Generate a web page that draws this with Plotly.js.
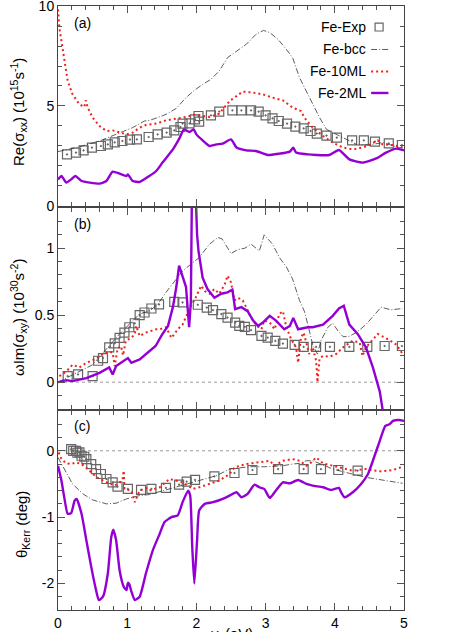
<!DOCTYPE html>
<html><head><meta charset="utf-8">
<script src="https://cdn.plot.ly/plotly-3.0.1.min.js"></script>
<style>body{margin:0;background:#fff}#plot{width:463px;height:632px}</style>
</head><body><div id="plot"></div>
<script>
// ---------- panel (a): Re(sigma_xx) ----------
const expA_x = [0.13,0.26,0.37,0.49,0.62,0.72,0.82,0.93,1.04,1.14,1.31,1.44,1.57,1.68,1.77,1.80,1.90,1.98,2.03,2.04,2.21,2.33,2.52,2.65,2.79,2.90,3.00,3.10,3.19,3.31,3.43,3.55,3.65,3.74,3.88,4.03,4.25,4.42,4.58,4.78,4.97];
const expA_y = [2.58,2.67,2.78,2.92,3.00,3.08,3.18,3.25,3.32,3.33,3.45,3.58,3.67,3.78,3.95,4.12,4.13,4.33,4.50,4.22,4.53,4.72,4.78,4.78,4.78,4.72,4.53,4.38,4.25,4.12,3.97,3.88,3.75,3.62,3.52,3.42,3.28,3.28,3.22,3.13,3.05];
const bccA_x = [0,0.3,0.6,0.84,1.08,1.25,1.32,1.44,1.56,1.71,1.85,1.97,2.09,2.21,2.33,2.45,2.58,2.72,2.86,2.97,3.06,3.18,3.30,3.39,3.49,3.59,3.63,3.78,3.88,4.02,4.21,4.33,4.50,4.69,4.93,5.0];
const bccA_y = [2.72,2.95,3.25,3.58,3.92,4.25,4.28,4.42,4.58,4.88,5.42,5.78,6.08,6.33,6.75,7.42,7.75,8.08,8.58,8.78,8.67,8.33,7.83,7.42,6.42,5.75,5.42,4.42,3.83,3.58,3.25,3.05,3.05,3.17,2.92,2.9];
const ml10A_x = [0,0.02,0.05,0.09,0.14,0.21,0.31,0.38,0.40,0.43,0.50,0.60,0.70,0.79,0.89,0.99,1.08,1.18,1.27,1.42,1.56,1.80,2.00,2.09,2.19,2.33,2.48,2.58,2.67,2.82,2.96,3.10,3.25,3.39,3.51,3.56,3.68,3.83,3.97,4.12,4.26,4.40,4.50,4.62,4.69,4.84,4.98];
const ml10A_y = [9.83,8.9,8.25,7.25,6.25,5.58,5.08,4.95,5.28,4.92,4.42,4.0,3.75,3.78,3.67,3.58,3.67,3.92,4.05,4.12,4.28,4.42,4.58,4.5,4.45,4.62,5.25,5.5,5.72,5.67,5.58,5.42,5.28,4.92,4.75,4.42,3.92,3.5,3.17,2.92,2.83,2.92,3.05,3.28,3.08,3.05,2.92];
const ml2A_x = [0,0.05,0.12,0.19,0.25,0.34,0.46,0.60,0.70,0.79,0.89,0.99,1.01,1.08,1.18,1.32,1.42,1.51,1.66,1.76,1.82,1.90,1.96,2.00,2.09,2.19,2.29,2.38,2.50,2.58,2.72,2.86,3.03,3.20,3.35,3.40,3.44,3.61,3.73,3.92,4.06,4.21,4.40,4.60,4.74,4.89,5.0];
const ml2A_y = [1.33,1.5,1.17,1.33,1.5,1.25,1.17,1.12,1.25,1.72,1.62,1.5,1.58,1.25,1.2,1.5,1.75,2.17,2.83,3.42,3.83,3.7,3.83,3.58,3.28,3.0,3.08,3.12,3.33,2.92,2.78,2.75,2.55,2.62,2.72,2.92,2.67,2.58,2.55,2.55,2.8,2.33,2.17,2.38,2.67,2.87,2.78];

// ---------- panel (b): omega Im(sigma_xy) ----------
const expB_x = [0.14,0.29,0.50,0.58,0.65,0.74,0.82,0.89,0.96,1.03,1.11,1.18,1.25,1.35,1.46,1.68,1.80,2.02,2.15,2.24,2.36,2.45,2.56,2.62,2.70,2.79,2.94,3.03,3.14,3.25,3.42,3.55,3.73,3.93,4.21,4.47,4.72,4.97];
const expB_y = [0.045,0.058,0.045,0.16,0.18,0.26,0.29,0.33,0.37,0.41,0.44,0.50,0.52,0.55,0.58,0.60,0.595,0.578,0.557,0.538,0.508,0.482,0.445,0.42,0.413,0.388,0.345,0.332,0.308,0.288,0.278,0.263,0.263,0.263,0.263,0.263,0.27,0.27];
const bccB_x = [0,0.2,0.5,0.89,1.18,1.32,1.44,1.56,1.80,2.04,2.19,2.31,2.37,2.50,2.60,2.70,2.79,2.91,2.98,3.10,3.20,3.30,3.39,3.49,3.56,3.62,3.68,3.75,3.80,3.90,3.97,4.05,4.12,4.20,4.31,4.45,4.67,4.81,4.98];
const bccB_y = [0.0,0.05,0.13,0.36,0.51,0.53,0.58,0.67,0.83,0.93,1.03,1.08,1.07,0.96,0.99,1.0,1.03,0.98,1.10,1.03,0.93,0.86,0.77,0.61,0.53,0.41,0.28,0.21,0.31,0.41,0.44,0.38,0.34,0.34,0.37,0.43,0.56,0.54,0.55];
const ml10B_x = [0.02,0.12,0.21,0.31,0.41,0.53,0.65,0.74,0.79,0.82,0.86,0.91,0.94,0.98,1.06,1.11,1.13,1.18,1.27,1.42,1.47,1.56,1.64,1.73,1.80,1.86,1.92,1.97,2.02,2.07,2.12,2.19,2.26,2.33,2.41,2.45,2.50,2.55,2.60,2.67,2.72,2.79,2.86,2.94,2.98,3.06,3.13,3.20,3.25,3.30,3.37,3.44,3.47,3.51,3.55,3.59,3.63,3.68,3.73,3.75,3.78,3.83,3.92,4.02,4.12,4.26,4.36,4.40,4.45,4.62,4.77,4.89,4.98];
const ml10B_y = [0.045,0.08,0.13,0.11,0.145,0.17,0.21,0.23,0.22,0.12,0.25,0.27,0.2,0.31,0.33,0.36,0.42,0.345,0.37,0.395,0.395,0.41,0.33,0.395,0.43,0.5,0.57,0.61,0.67,0.72,0.68,0.66,0.695,0.66,0.73,0.795,0.745,0.61,0.63,0.61,0.56,0.48,0.43,0.395,0.46,0.445,0.395,0.51,0.53,0.41,0.32,0.26,0.145,0.33,0.37,0.28,0.21,0.26,0.16,0.0,0.18,0.195,0.19,0.21,0.26,0.31,0.295,0.195,0.26,0.36,0.32,0.28,0.21];
const ml2B_x = [0,0.12,0.21,0.41,0.60,0.74,0.79,0.84,1.01,1.06,1.18,1.32,1.41,1.51,1.59,1.66,1.71,1.75,1.80,1.85,1.895,1.92,1.935,1.99,2.01,2.03,2.09,2.16,2.26,2.36,2.45,2.52,2.56,2.65,2.74,2.82,2.89,2.96,3.06,3.15,3.27,3.35,3.40,3.47,3.61,3.68,3.83,3.97,4.06,4.13,4.21,4.33,4.45,4.55,4.65,4.72];
const ml2B_y = [0,0.015,0.008,0.03,0.07,0.11,0.058,0.12,0.18,0.145,0.17,0.23,0.27,0.36,0.42,0.56,0.71,0.87,0.795,0.71,0.41,0.6,1.4,1.4,1.1,0.98,0.78,0.695,0.63,0.66,0.67,0.69,0.545,0.56,0.53,0.46,0.42,0.445,0.495,0.46,0.395,0.42,0.48,0.395,0.41,0.41,0.43,0.495,0.55,0.57,0.43,0.36,0.26,0.11,-0.07,-0.3];

// ---------- panel (c): theta_Kerr ----------
const expC_x = [0.19,0.22,0.26,0.28,0.31,0.34,0.38,0.41,0.48,0.55,0.62,0.70,0.79,0.86,1.01,1.20,1.35,1.56,1.75,1.86,1.98,2.26,2.55,2.81,3.18,3.55,3.80,4.05,4.33];
const expC_y = [0.025,0.0,0.0,-0.03,-0.025,-0.075,-0.09,-0.125,-0.2,-0.275,-0.35,-0.425,-0.475,-0.54,-0.575,-0.59,-0.575,-0.56,-0.51,-0.465,-0.44,-0.385,-0.335,-0.29,-0.275,-0.275,-0.275,-0.29,-0.30];
const bccC_x = [0,0.05,0.12,0.21,0.36,0.50,0.70,0.84,0.99,1.18,1.32,1.56,1.80,2.04,2.29,2.48,2.77,3.01,3.25,3.39,3.49,3.59,3.68,3.80,3.97,4.21,4.45,4.74,4.98];
const bccC_y = [-0.1,-0.2,-0.325,-0.5,-0.65,-0.74,-0.8,-0.79,-0.725,-0.675,-0.66,-0.59,-0.51,-0.45,-0.375,-0.275,-0.24,-0.24,-0.225,-0.2,-0.19,-0.15,-0.15,-0.2,-0.275,-0.34,-0.4,-0.45,-0.49];
const ml10C_x = [0.01,0.05,0.12,0.19,0.26,0.34,0.43,0.53,0.60,0.70,0.82,0.93,0.95,0.96,1.06,1.11,1.18,1.27,1.32,1.47,1.61,1.80,1.95,2.04,2.19,2.33,2.48,2.55,2.72,2.91,3.06,3.13,3.25,3.39,3.49,3.59,3.66,3.73,3.78,3.83,3.97,4.12,4.26,4.45,4.65,4.84,4.98];
const ml10C_y = [-0.025,-0.125,-0.19,-0.2,-0.175,-0.2,-0.275,-0.375,-0.425,-0.475,-0.525,-0.45,-0.3,-0.575,-0.6,-0.775,-0.6,-0.56,-0.6,-0.55,-0.425,-0.475,-0.575,-0.55,-0.5,-0.45,-0.35,-0.25,-0.2,-0.175,-0.15,-0.225,-0.15,-0.125,-0.15,-0.225,-0.175,-0.1,-0.15,-0.19,-0.225,-0.26,-0.3,-0.275,-0.31,-0.29,-0.24];
const ml2C_x = [0,0.05,0.09,0.14,0.19,0.24,0.27,0.34,0.41,0.48,0.55,0.59,0.65,0.72,0.77,0.80,0.84,0.89,0.95,0.99,1.01,1.03,1.06,1.11,1.18,1.27,1.37,1.47,1.54,1.64,1.73,1.80,1.88,1.91,1.94,1.97,2.01,2.04,2.12,2.24,2.38,2.48,2.58,2.65,2.74,2.84,2.91,2.98,3.06,3.13,3.25,3.35,3.47,3.59,3.68,3.83,3.95,4.06,4.09,4.14,4.26,4.38,4.48,4.55,4.65,4.73,4.79,4.84,4.93,5.0];
const ml2C_y = [-0.225,-0.45,-0.7,-0.95,-0.94,-0.75,-0.725,-0.95,-1.35,-1.75,-2.1,-2.25,-2.2,-1.85,-1.3,-1.19,-1.35,-1.8,-2.05,-2.1,-1.99,-2.01,-2.12,-2.25,-2.2,-1.85,-1.5,-1.25,-1.075,-1.0,-0.975,-0.775,-0.6,-0.675,-1.45,-2.0,-1.35,-0.9,-0.8,-0.775,-0.725,-0.675,-0.625,-0.7,-0.65,-0.51,-0.55,-0.575,-0.71,-0.625,-0.475,-0.49,-0.44,-0.5,-0.525,-0.55,-0.59,-0.56,-0.625,-0.7,-0.625,-0.5,-0.35,-0.15,0.15,0.375,0.4,0.45,0.465,0.45];

// ---------- labels ----------
const seriesNames = ["Fe-Exp","Fe-bcc","Fe-10ML","Fe-2ML"];
const panelLabels = ["(a)","(b)","(c)"];
const xTicks = [0,1,2,3,4,5];
const yTicksA = [0,5,10];
const yTicksB = [0,0.5,1];
const yTicksC = [-2,-1,0];
const yTickTextC = ["-2","-1","0"];

const expStyle = {mode:'markers', marker:{symbol:'square-open-dot', size:9, color:'#666', line:{width:1.2, color:'#666'}}, showlegend:false};
const bccStyle = {mode:'lines', line:{color:'#333', width:0.8, dash:'6px,2px,1px,2px'}, showlegend:false};
const ml10Style = {mode:'lines', line:{color:'#f0201a', width:2, dash:'2px,3px'}, showlegend:false};
const ml2Style = {mode:'lines', line:{color:'#9400d3', width:2.4, shape:'spline', smoothing:0.5}, showlegend:false};

function tr(style, x, y, ax, name){
  return Object.assign({}, JSON.parse(JSON.stringify(style)), {x:x, y:y, xaxis:'x'+ax, yaxis:'y'+ax, name:name});
}
const data = [
  tr(expStyle, expA_x, expA_y, '', seriesNames[0]),
  tr(bccStyle, bccA_x, bccA_y, '', seriesNames[1]),
  tr(ml10Style, ml10A_x, ml10A_y, '', seriesNames[2]),
  tr(ml2Style, ml2A_x, ml2A_y, '', seriesNames[3]),
  tr(expStyle, expB_x, expB_y, '2', seriesNames[0]),
  tr(bccStyle, bccB_x, bccB_y, '2', seriesNames[1]),
  tr(ml10Style, ml10B_x, ml10B_y, '2', seriesNames[2]),
  Object.assign(tr(ml2Style, ml2B_x, ml2B_y, '2', seriesNames[3]), {line:{color:'#9400d3', width:2.4}}),
  tr(expStyle, expC_x, expC_y, '3', seriesNames[0]),
  tr(bccStyle, bccC_x, bccC_y, '3', seriesNames[1]),
  tr(ml10Style, ml10C_x, ml10C_y, '3', seriesNames[2]),
  tr(ml2Style, ml2C_x, ml2C_y, '3', seriesNames[3])
];

const FONT = {family:'"Liberation Sans", Arial, Helvetica, sans-serif', size:14, color:'#000'};
function xax(anchor, showLabels){
  return {range:[0,5], tickmode:'array', tickvals:xTicks, ticks:'inside', ticklen:7, tickcolor:'#555',
    showticklabels:showLabels, showline:true, linecolor:'#444', linewidth:1, mirror:'ticks',
    showgrid:false, zeroline:false, anchor:anchor, tickfont:FONT, ticklabeloverflow:'allow',
    minor:{dtick:0.2, tick0:0, ticks:'inside', ticklen:4, tickcolor:'#555'}};
}
function yax(anchor, domain, range, tickvals, minorDtick){
  return {range:range, domain:domain, tickmode:'array', tickvals:tickvals, ticks:'inside', ticklen:7, tickcolor:'#555',
    showline:true, linecolor:'#444', linewidth:1, mirror:'ticks', showgrid:false, zeroline:false,
    anchor:anchor, tickfont:FONT, ticklabeloverflow:'allow',
    minor:{dtick:minorDtick, tick0:0, ticks:'inside', ticklen:4, tickcolor:'#555'}};
}

// legend (drawn as keys + labels in panel a, gnuplot style: text then sample)
const legRowsY = [0.9652, 0.928, 0.8916, 0.856];
const legTextX = 0.897, legKeyX0 = 0.905, legKeyX1 = 0.955, legSqX = 0.928;

const shapes = [
  {type:'line', xref:'x2 domain', yref:'y2', x0:0, x1:1, y0:0, y1:0, line:{color:'#999', width:1, dash:'dot'}, layer:'below'},
  {type:'line', xref:'x3 domain', yref:'y3', x0:0, x1:1, y0:0, y1:0, line:{color:'#999', width:1, dash:'dot'}, layer:'below'},
  {type:'rect', xref:'paper', yref:'paper', x0:legSqX-0.0116, x1:legSqX+0.0116, y0:legRowsY[0]-0.0066, y1:legRowsY[0]+0.0066, line:{color:'#666', width:1.2}},
  {type:'line', xref:'paper', yref:'paper', x0:legKeyX0, x1:legKeyX1, y0:legRowsY[1], y1:legRowsY[1], line:bccStyle.line},
  {type:'line', xref:'paper', yref:'paper', x0:legKeyX0, x1:legKeyX1, y0:legRowsY[2], y1:legRowsY[2], line:{color:'#f0201a', width:2, dash:'2px,3px'}},
  {type:'line', xref:'paper', yref:'paper', x0:legKeyX0, x1:legKeyX1, y0:legRowsY[3], y1:legRowsY[3], line:{color:'#9400d3', width:2.4}}
];

const annotations = [];
seriesNames.forEach((n,i)=>annotations.push({text:n, xref:'paper', yref:'paper', x:legTextX, y:legRowsY[i], xanchor:'right', yanchor:'middle', showarrow:false, font:FONT}));
const panelY = [0.9719, 0.6386, 0.3046];
panelLabels.forEach((t,i)=>annotations.push({text:t, xref:'paper', yref:'paper', x:0.0405, y:panelY[i], xanchor:'left', yanchor:'middle', showarrow:false, font:FONT}));
annotations.push({text:'Re(σ<sub>xx</sub>) (10<sup>15</sup>s<sup>-1</sup>)', textangle:-90, xref:'paper', yref:'paper', x:-0.1156, y:0.8245, xanchor:'center', yanchor:'middle', showarrow:false, font:Object.assign({},FONT,{size:15})});
annotations.push({text:'ωIm(σ<sub>xy</sub>) (10<sup>30</sup>s<sup>-2</sup>)', textangle:-90, xref:'paper', yref:'paper', x:-0.1156, y:0.485, xanchor:'center', yanchor:'middle', showarrow:false, font:Object.assign({},FONT,{size:15})});
annotations.push({text:'θ<sub>Kerr</sub> (deg)', textangle:-90, xref:'paper', yref:'paper', x:-0.104, y:0.1407, xanchor:'center', yanchor:'middle', showarrow:false, font:Object.assign({},FONT,{size:15})});
annotations.push({text:'ω (eV)', xref:'paper', yref:'paper', x:0.5, y:-0.039, xanchor:'center', yanchor:'middle', showarrow:false, font:Object.assign({},FONT,{size:15})});

const layout = {
  width:463, height:632, margin:{l:58, r:59, t:6, b:22},
  paper_bgcolor:'#fff', plot_bgcolor:'#fff', font:FONT, showlegend:false,
  xaxis: xax('y', false),
  xaxis2: xax('y2', false),
  xaxis3: xax('y3', true),
  yaxis: yax('x', [0.6689,1], [0,10], yTicksA, 1),
  yaxis2: yax('x2', [0.3328,0.6656], [-0.2,1.3], yTicksB, 0.1),
  yaxis3: Object.assign(yax('x3', [0,0.3295], [-2.4,0.6], yTicksC, 0.2), {ticktext:yTickTextC}),
  shapes:shapes, annotations:annotations
};
Plotly.newPlot('plot', data, layout, {staticPlot:true, displayModeBar:false});
</script></body></html>
